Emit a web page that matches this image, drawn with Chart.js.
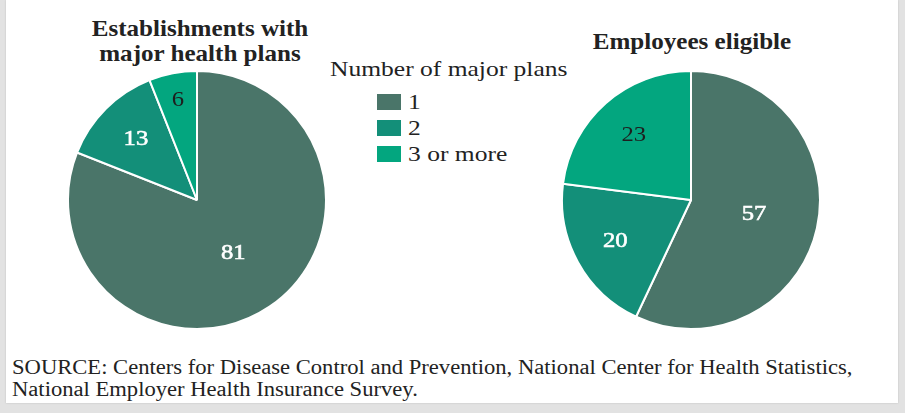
<!DOCTYPE html>
<html>
<head>
<meta charset="utf-8">
<script src="https://cdn.jsdelivr.net/npm/chart.js@4"></script>
<style>
  html, body { margin: 0; padding: 0; }
  body {
    width: 905px; height: 413px; overflow: hidden;
    background: #e2e2e2;
    font-family: "Liberation Serif", serif;
    color: #222;
  }
  .panel {
    position: absolute; left: 6px; top: 0; width: 892px; height: 403px;
    background: #fff;
    box-shadow: 0 0 2px rgba(0,0,0,0.15);
  }
  /* Times is narrower than the book face, so stretch text sideways */
  .wide { display: inline-block; transform-origin: 0 0; }
  .title {
    position: absolute; font-weight: bold; font-size: 23px; line-height: 25px;
    text-align: center; width: 300px;
    transform: scaleX(1.09); transform-origin: 50% 0;
  }
  #title-left { left: 50px; top: 16px; }
  #title-right { left: 542px; top: 29px; }
  .pie { position: absolute; top: 70px; }
  #pie-left { left: 67px; }
  #pie-right { left: 561px; }
  #legend { position: absolute; left: 330px; top: 57px; font-size: 22px; }
  #legend .head { line-height: 24px; margin-bottom: 11px; transform: scaleX(1.16); transform-origin: 0 0; }
  #legend .row { height: 26px; display: flex; align-items: flex-start; padding-left: 47px; }
  #legend .swatch { width: 24px; height: 16px; margin-right: 7px; margin-top: 2px; }
  #legend .row span { line-height: 20px; display: inline-block; transform: scaleX(1.16); transform-origin: 0 0; }
  #source {
    position: absolute; left: 12px; top: 356px; font-size: 20px; line-height: 22px;
    transform: scaleX(1.13); transform-origin: 0 0; white-space: nowrap;
  }
</style>
</head>
<body>
<div class="panel"></div>
<div class="title" id="title-left">Establishments with<br>major health plans</div>
<div class="title" id="title-right">Employees eligible</div>
<div id="legend"></div>
<canvas class="pie" id="pie-left" width="260" height="260"></canvas>
<canvas class="pie" id="pie-right" width="260" height="260"></canvas>
<div id="source">SOURCE: Centers for Disease Control and Prevention, National Center for Health Statistics,<br>National Employer Health Insurance Survey.</div>

<script>
// Number of major plans offered
const categories = ['1', '2', '3 or more'];
// Percent of establishments with major health plans
const establishments = [81, 13, 6];
// Percent of employees eligible
const employees = [57, 20, 23];

const colors = ['#4a7569', '#138f79', '#03a67f'];
const labelColors = ['#ffffff', '#ffffff', '#1e1e1e'];
const labelFont = '22px "Liberation Serif"';

// legend built from the categories
document.getElementById('legend').innerHTML =
  '<div class="head">Number of major plans</div>' +
  categories.map((c, i) =>
    `<div class="row"><div class="swatch" style="background:${colors[i]}"></div><span>${c}</span></div>`
  ).join('');

// Draws each slice's value inside it
const sliceLabels = {
  id: 'sliceLabels',
  afterDatasetsDraw(chart) {
    const ctx = chart.ctx;
    const meta = chart.getDatasetMeta(0);
    const values = chart.data.datasets[0].data;
    ctx.save();
    ctx.font = labelFont;
    ctx.textAlign = 'center';
    ctx.textBaseline = 'middle';
    meta.data.forEach((arc, i) => {
      const { x, y, startAngle, endAngle, outerRadius } = arc.getProps(['x', 'y', 'startAngle', 'endAngle', 'outerRadius'], true);
      const mid = (startAngle + endAngle) / 2;
      const v = values[i];
      const f = v > 50 ? 0.5 : (v < 10 ? 0.79 : 0.67);
      const lx = x + Math.cos(mid) * outerRadius * f;
      const ly = y + Math.sin(mid) * outerRadius * f;
      ctx.fillStyle = labelColors[i];
      ctx.save();
      ctx.translate(lx, ly);
      ctx.scale(1.12, 1);
      if (i < 2) {
        // a light outline thickens the white digits a bit
        ctx.strokeStyle = labelColors[i];
        ctx.lineWidth = 0.6;
        ctx.strokeText(String(v), 0, 0);
      }
      ctx.fillText(String(v), 0, 0);
      ctx.restore();
    });
    ctx.restore();
  }
};

function makePie(id, values) {
  new Chart(document.getElementById(id), {
    type: 'pie',
    data: {
      labels: categories,
      datasets: [{
        data: values,
        backgroundColor: colors,
        borderColor: '#ffffff',
        borderWidth: 2,
      }],
    },
    options: {
      responsive: false,
      animation: false,
      plugins: {
        legend: { display: false },
        tooltip: { enabled: false },
      },
    },
    plugins: [sliceLabels],
  });
}

document.fonts.load(labelFont).then(() => {
  makePie('pie-left', establishments);
  makePie('pie-right', employees);
});
</script>
</body>
</html>
